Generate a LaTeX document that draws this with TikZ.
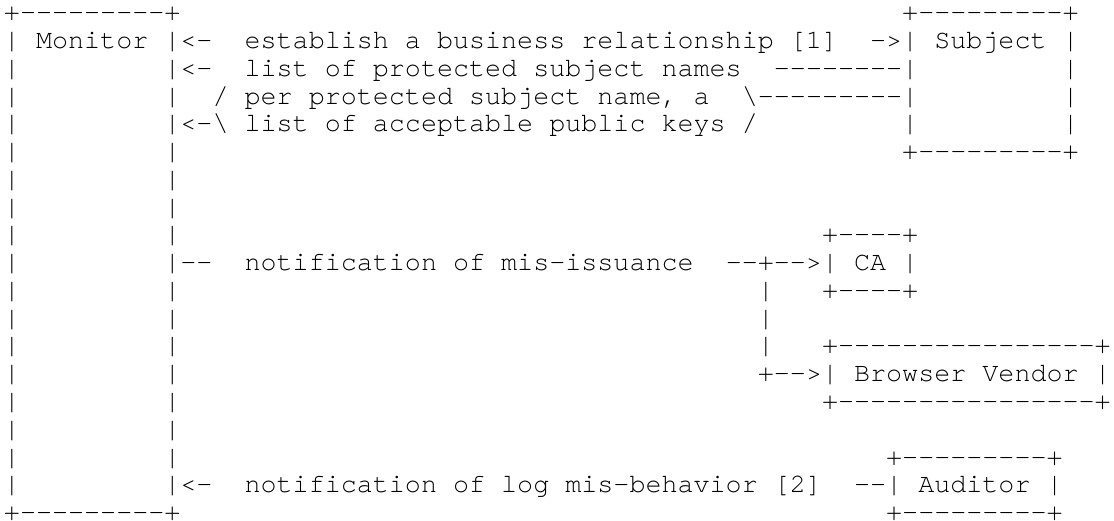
\documentclass[tikz,border=0pt]{standalone}
\usepackage{fontspec}
% no ligatures: every character keeps its own cell (no "fi" glyph)
\setmonofont{texgyrecursor-regular.otf}[Ligatures={NoCommon,NoRare}]
% typewriter face of the grid, every space one full cell wide
\newcommand\gridfont{%
  \ttfamily\fontsize{26.73pt}{27.8pt}\selectfont
  \spaceskip=16.04pt plus 0pt minus 0pt\relax}
\begin{document}
\begin{tikzpicture}
% page: white sheet, 1114 x 521
\fill[white] (0pt,0pt) rectangle (1114pt,-521pt);
\useasboundingbox (0pt,0pt) rectangle (1114pt,-521pt);
% character grid: one unit = one column / one text row, origin at the
% left edge of column 0 on the baseline of row 0
\begin{scope}[shift={(4pt,-21pt)}, x=16.04pt, y=-27.75pt,
  ch/.style={anchor=base west, inner sep=0pt, outer sep=0pt,
    text height=18pt, text depth=5pt, font=\gridfont},
  last/.style={ch, text depth=0pt}]

  % ---------------- Monitor ----------------
  \node[ch] (montop) at (0,0)  {+---------+};
  \node[last] (monbot) at (0,18) {+---------+};
  \foreach \r in {1,...,17} {
    \node[ch] (monl-\r) at (0,\r)  {|};
    \node[ch] (monr-\r) at (10,\r) {|};
  }
  \node[ch] (monitor) at (2,1) {Monitor};

  % ---------------- Subject ----------------
  \node[ch] (subtop) at (56,0) {+---------+};
  \node[ch] (subbot) at (56,5) {+---------+};
  \foreach \r in {1,...,4} {
    \node[ch] (subl-\r) at (56,\r) {|};
    \node[ch] (subr-\r) at (66,\r) {|};
  }
  \node[ch] (subject) at (58,1) {Subject};

  % ---------------- CA ----------------
  \node[ch] (catop) at (51,8)  {+----+};
  \node[ch] (cal)   at (51,9)  {|};
  \node[ch] (ca)    at (53,9)  {CA};
  \node[ch] (car)   at (56,9)  {|};
  \node[ch] (cabot) at (51,10) {+----+};

  % ---------------- Browser Vendor ----------------
  \node[ch] (bvtop)  at (51,12) {+----------------+};
  \node[ch] (bvl)    at (51,13) {|};
  \node[ch] (vendor) at (53,13) {Browser Vendor};
  \node[ch] (bvr)    at (68,13) {|};
  \node[ch] (bvbot)  at (51,14) {+----------------+};

  % ---------------- Auditor ----------------
  \node[ch] (audtop) at (55,16) {+---------+};
  \node[ch] (audl)   at (55,17) {|};
  \node[ch] (auditor) at (57,17) {Auditor};
  \node[ch] (audr)   at (65,17) {|};
  \node[last] (audbot) at (55,18) {+---------+};

  % ---------------- Monitor <-> Subject ----------------
  \node[ch] (m1a) at (11,1) {<-};
  \node[ch] (m1t) at (15,1) {establish a business relationship [1]};
  \node[ch] (m1b) at (54,1) {->};

  \node[ch] (m2a) at (11,2) {<-};
  \node[ch] (m2t) at (15,2) {list of protected subject names};
  \node[ch] (m2b) at (48,2) {--------};

  \node[ch] (m3a) at (13,3) {/};
  \node[ch] (m3t) at (15,3) {per protected subject name, a};
  \node[ch] (m3b) at (46,3) {\textbackslash---------};

  \node[ch] (m4a) at (11,4) {<-\textbackslash};
  \node[ch] (m4t) at (15,4) {list of acceptable public keys};
  \node[ch] (m4b) at (46,4) {/};

  % ---------------- mis-issuance fan-out ----------------
  \node[ch] (m9a) at (11,9) {--};
  \node[ch] (m9t) at (15,9) {notification of mis-issuance};
  \node[ch] (m9b) at (45,9) {--+-->};
  \foreach \r in {10,11,12} {
    \node[ch] (fan-\r) at (47,\r) {|};
  }
  \node[ch] (m13) at (47,13) {+-->};

  % ---------------- Auditor -> Monitor ----------------
  \node[ch] (m17a) at (11,17) {<-};
  \node[ch] (m17t) at (15,17) {notification of log mis-behavior [2]};
  \node[ch] (m17b) at (53,17) {--};
\end{scope}
\end{tikzpicture}
\end{document}
